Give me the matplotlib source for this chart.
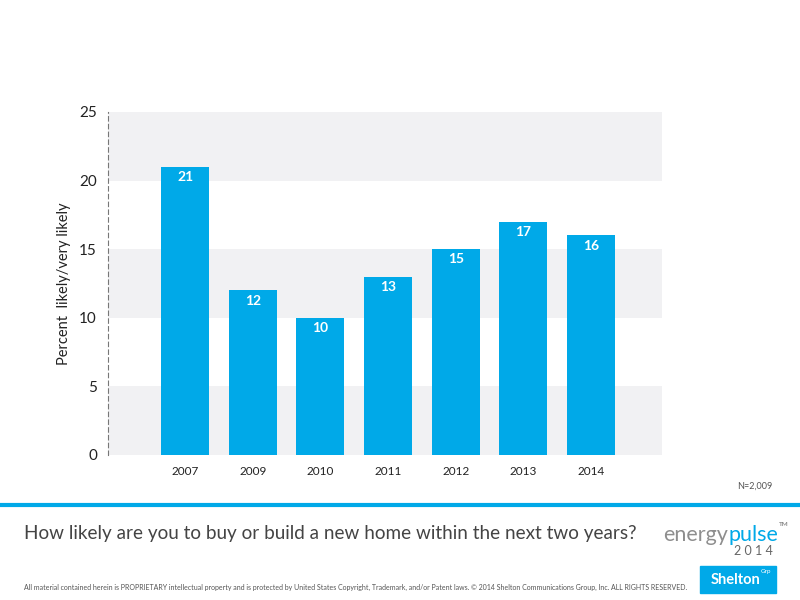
import matplotlib.pyplot as plt
from matplotlib.patches import Rectangle

years = ['2007', '2009', '2010', '2011', '2012', '2013', '2014']
values = [21, 12, 10, 13, 15, 17, 16]
yticks = [0, 5, 10, 15, 20, 25]

blue = '#00a9e8'
plt.rcParams['font.family'] = ['Lato', 'DejaVu Sans']

fig = plt.figure(figsize=(8, 6), dpi=100)
ax = fig.add_axes([0.135, 0.2417, 0.6925, 0.5717])

# alternating grey bands
for lo in [0, 10, 20]:
    ax.axhspan(lo, lo + 5, color='#f1f1f3', zorder=0, lw=0)

x = list(range(len(years)))
ax.bar(x, values, width=0.71, color=blue, zorder=2)
for xi, v in zip(x, values):
    ax.text(xi, v - 0.75, str(v), ha='center', va='center', color='white',
            fontsize=10, fontweight='bold', zorder=3)

ax.set_xlim(-1.14, 7.05)
ax.set_ylim(0, 25)
ax.set_yticks(yticks)
ax.set_xticks(x)
ax.set_xticklabels(years, fontsize=8.5, color='#222222')
ax.tick_params(axis='y', labelsize=11, length=0, pad=8, colors='#222222')
ax.tick_params(axis='x', length=0, pad=8)
for s in ['top', 'right', 'bottom']:
    ax.spines[s].set_visible(False)
ax.spines['left'].set_linestyle((0, (4, 3)))
ax.spines['left'].set_color('#777777')
ax.spines['left'].set_linewidth(0.8)
ax.set_ylabel('Percent  likely/very likely', fontsize=10.5, color='#222222', labelpad=6)

fig.text(0.965, 0.19, 'N=2,009', fontsize=6.5, color='#555555', ha='right', va='center')

# footer band
fig.add_artist(plt.Line2D([0, 1], [1 - 505 / 600, 1 - 505 / 600], color=blue, lw=3,
                          transform=fig.transFigure))
fig.text(0.03, 1 - 533 / 600, 'How likely are you to buy or build a new home within the next two years?',
         fontsize=13.6, color='#444444', va='center')
fig.text(728 / 800, 1 - 535 / 600, 'energy', fontsize=15.5, color='#8e8e8e',
         va='center', ha='right')
fig.text(728 / 800, 1 - 535 / 600, 'pulse', fontsize=15.5, color=blue,
         va='center', ha='left')
fig.text(779 / 800, 1 - 524 / 600, 'TM', fontsize=4.5, fontweight='bold', color='#888888',
         va='center', ha='left')
fig.text(773 / 800, 1 - 551 / 600, '2 0 1 4', fontsize=9, color='#666666', va='center', ha='right')
fig.text(0.03, 1 - 587 / 600,
         'All material contained herein is PROPRIETARY intellectual property and is protected by United States Copyright, '
         'Trademark, and/or Patent laws. © 2014 Shelton Communications Group, Inc. ALL RIGHTS RESERVED.',
         fontsize=5.0, color='#555555', va='center')
fig.add_artist(Rectangle((700 / 800, 1 - 593 / 600), 76 / 800, 27 / 600, color=blue,
                         transform=fig.transFigure))
fig.text(736 / 800, 1 - 580 / 600, 'Shelton', fontsize=10.5, fontweight='bold', color='white',
         ha='center', va='center')
fig.text(761 / 800, 1 - 572 / 600, 'Grp', fontsize=4.5, color='white', ha='left', va='center')

fig.savefig('out.png', dpi=100)
